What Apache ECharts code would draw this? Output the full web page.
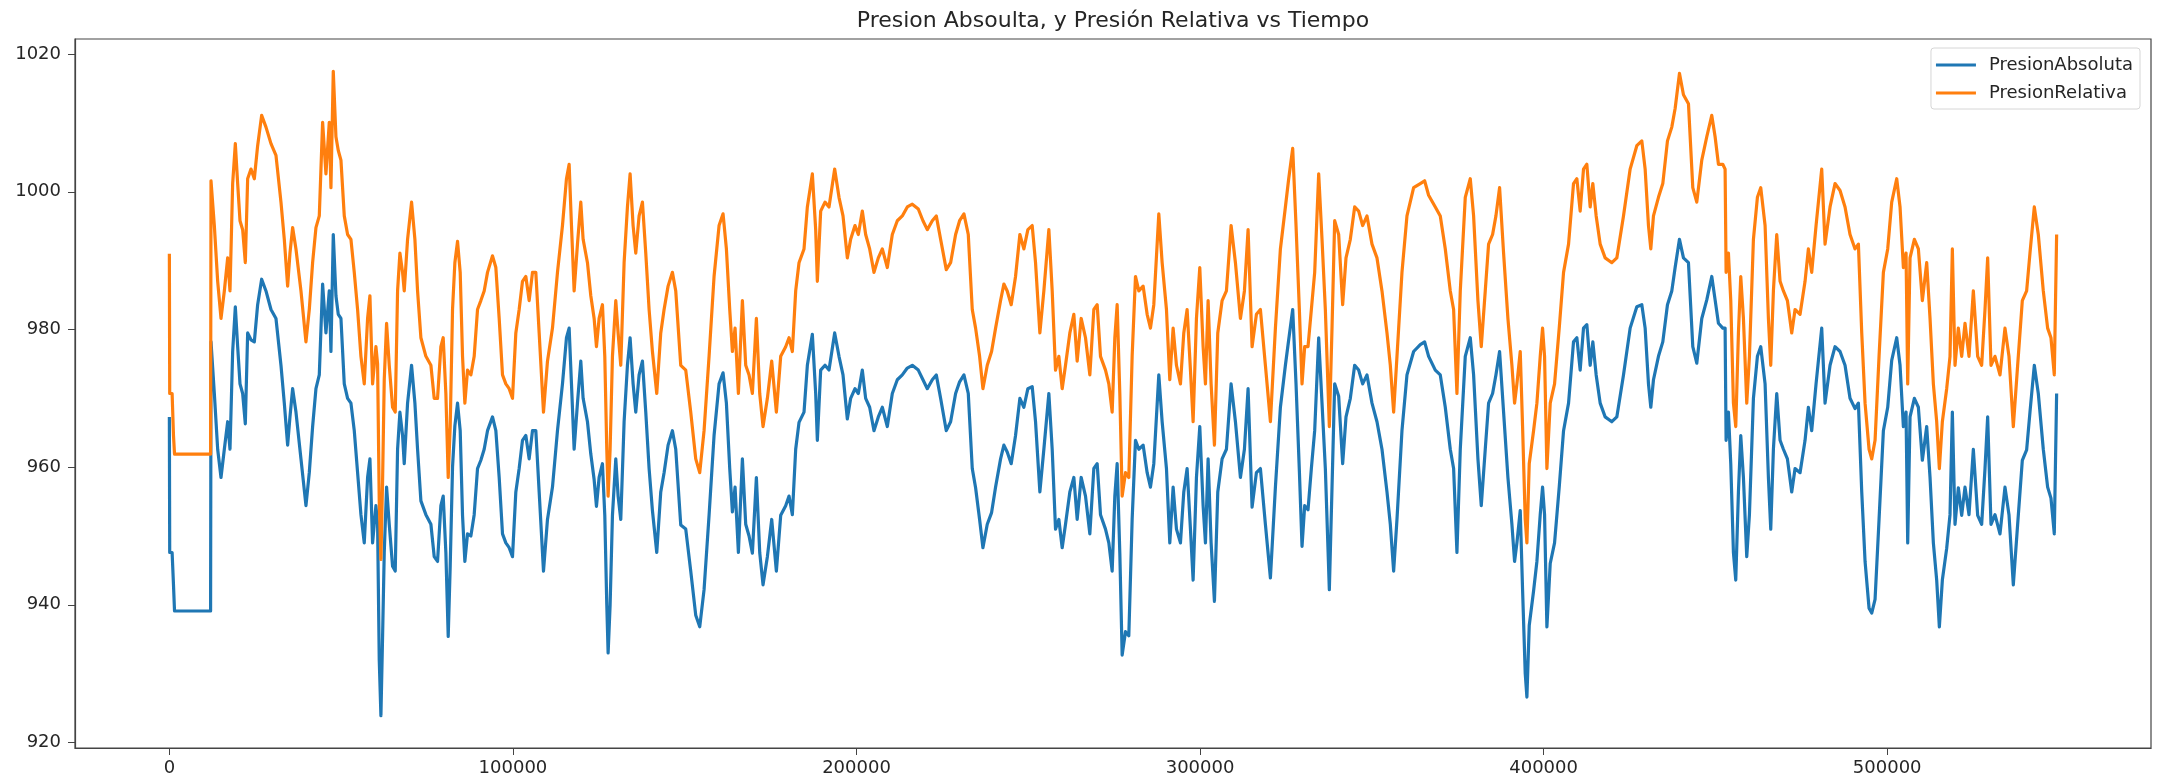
<!DOCTYPE html>
<html>
<head>
<meta charset="utf-8">
<script src="https://cdn.jsdelivr.net/npm/echarts@6/dist/echarts.min.js"></script>
<style>
html,body{margin:0;padding:0;background:#fff;}
#chart{width:2159px;height:781px;}
</style>
</head>
<body>
<div id="chart"></div>
<script>
const chartTitle = "Presion Absoulta, y Presión Relativa vs Tiempo";
const seriesNames = ["PresionAbsoluta", "PresionRelativa"];
const xTicks = [0, 100000, 200000, 300000, 400000, 500000];
const yTicks = [920, 940, 960, 980, 1000, 1020];

const tiempo = [
0,100,800,1200,1500,12000,12121,13091,14061,15030,16000,16970,17649,18424,19200,19879,20558,21334,22110,22788,23758,24728,25697,26861,28121,29576,31031,32485,33455,34425,35103,35879,36849,38303,39758,40728,41697,42667,43637,44606,45576,46546,47031,47710,48485,49164,49940,50909,51879,52849,53818,54788,55758,56728,57697,58376,59152,60122,60606,61091,61576,62061,62546,63225,64000,64970,65746,66425,67103,67879,68364,69334,70498,71467,72243,73213,74667,76122,
77088,78058,79027,79706,80482,81161,81743,82421,83100,83876,84652,85330,86009,86785,87755,88724,89694,90664,91634,92603,94058,95027,95997,96967,97937,98906,99876,100846,101815,102785,103755,104724,105694,106664,107634,108894,110058,111512,112967,114422,115585,116361,117040,117815,118785,119755,120431,121694,122664,123634,124312,125088,126058,126737,127318,127706,128288,128967,129937,130615,131391,132361,133331,134106,134979,135755,136725,137694,138664,139634,140603,141864,143028,143997,145161,146422,147391,148846,150300,151755,153209,154373,155634,157088,158543,
160000,161164,162133,163103,163879,164655,165624,166788,167758,168727,169697,170861,171830,172800,174061,175321,176679,177939,179394,180364,181333,182303,183273,184727,185697,187152,188121,188606,189576,190836,192000,193649,194909,196073,197333,198303,199564,200533,201697,202667,203830,205091,206352,207515,208970,210424,211879,213334,214788,216243,217988,219346,220606,222061,223224,224485,226134,227394,228849,230012,231273,232534,233697,234667,235831,236800,238061,239321,240485,241940,
242900,243870,245033,246294,247555,248718,249882,251142,252112,253373,254536,255991,256961,257930,258900,259870,260839,262100,263264,264233,265397,266658,267918,269082,270052,271021,272476,273446,274415,275191,275870,276646,277324,278294,279264,280233,281203,282173,283433,284597,285567,286537,287991,288961,290221,291191,292161,293130,294294,295264,296234,297203,297979,298949,299918,300888,301567,302343,303215,304185,305155,306415,307676,309034,310294,311749,312912,313979,315143,316403,317567,319021,320476,321931,323385,324840,
325800,326964,327933,328903,329679,330455,331424,332394,333364,334527,335497,336467,337630,338406,339182,340346,341509,342479,343739,345000,346164,347327,348588,350043,351497,352952,354406,355376,356346,357315,358770,360224,362164,364103,365364,366527,368467,369921,371376,372830,373800,374770,375740,377194,378649,379618,380879,381849,383012,383982,385146,386115,387182,388346,389606,390770,391546,392224,393194,393873,394649,395134,395812,397073,398043,399012,399691,400273,400952,401921,403182,404540,405800,407255,
408700,409670,410639,411609,412579,413549,414324,415294,416458,417912,419852,421306,423246,425185,427124,428579,429549,430518,431197,431973,433427,434688,436046,437306,438276,439536,440700,442155,443415,444579,446033,447488,448943,449912,450882,452143,452821,453112,453791,454470,455246,455924,456700,457379,458155,459124,459900,461064,462227,463197,464458,465427,466106,466882,467852,468821,469791,470955,472215,473185,474640,476094,477064,478034,479294,480943,481912,483367,484821,486276,487731,489185,490640,
491620,492590,493559,494723,495499,496469,497632,498893,500154,501317,502772,503741,504711,505487,505972,506650,507911,509075,510238,511499,512469,513438,514408,515184,516056,517317,518287,518966,519741,520711,521681,522650,523814,525075,526335,527499,528469,529244,530214,531378,532832,534287,535450,536711,537972,539329,540590,541560,542821,543984,545438,546699,547669,548639,549318
];

const presionAbsoluta = [
967.3,947.6,947.6,942.9,939.1,939.1,978.2,970.7,962.6,958.5,962.6,966.6,962.6,976.8,983.3,977.5,972.1,970.7,966.3,979.5,978.5,978.2,983.6,987.3,985.6,982.9,981.6,974.8,969.3,963.2,967.3,971.4,968.0,961.2,954.4,959.2,965.9,971.4,973.4,986.6,979.5,985.6,976.8,993.8,984.9,982.2,981.6,972.1,970.0,969.3,965.3,959.2,953.1,949.0,958.5,961.2,949.0,954.4,951.7,932.0,923.9,935.4,947.6,957.1,951.7,945.6,944.9,962.6,968.0,964.6,960.5,969.3,974.8,969.3,962.6,955.1,953.1,951.7,
947.0,946.3,954.4,955.8,947.6,935.4,945.6,960.0,966.0,969.3,965.3,953.0,946.3,950.3,950.0,953.1,959.8,961.0,962.6,965.3,967.3,965.3,958.5,950.3,949.0,948.3,947.0,956.4,959.8,963.9,964.6,961.2,965.3,965.3,956.4,944.9,952.4,957.1,965.3,972.1,978.8,980.2,972.1,962.6,969.3,975.4,970.0,966.6,961.9,958.2,954.3,958.5,960.5,953.0,940.0,933.0,940.0,953.0,961.2,955.8,952.4,966.6,974.8,978.8,972.1,968.0,973.4,975.4,968.0,959.8,953.7,947.6,956.4,959.2,963.2,965.3,962.6,951.6,951.0,944.9,938.5,936.8,942.2,953.0,964.6,
972.1,973.7,969.3,959.8,953.5,957.1,947.6,961.2,951.7,950.0,947.5,958.5,947.6,942.9,947.0,952.4,944.9,953.0,954.4,955.8,953.1,962.6,966.5,968.0,974.8,979.3,970.7,963.9,974.1,974.8,974.1,979.5,976.1,973.4,967.0,970.0,971.4,970.7,974.1,970.0,968.7,965.3,967.3,968.7,965.9,970.7,972.7,973.4,974.4,974.8,974.1,972.7,971.4,972.7,973.4,970.0,965.3,966.6,970.7,972.4,973.4,970.7,959.8,957.0,952.4,948.3,951.7,953.4,957.1,961.2,
963.2,962.2,960.5,964.6,970.0,968.7,971.4,971.7,966.6,956.4,962.6,970.7,962.6,951.0,952.4,948.3,951.7,956.4,958.5,952.4,958.5,955.8,950.3,959.8,960.5,953.1,951.0,949.0,944.9,955.8,960.5,947.5,932.7,936.1,935.5,952.4,963.9,962.6,963.2,959.2,957.1,960.5,973.4,966.6,959.8,949.0,957.1,951.0,949.0,956.4,959.8,951.0,943.6,958.5,965.9,954.4,949.0,961.2,949.0,940.5,956.4,961.2,962.6,972.1,966.6,958.5,962.6,971.4,954.2,959.2,959.8,951.7,943.9,957.1,968.7,974.8,
978.5,982.9,972.1,959.5,948.5,954.4,953.8,959.8,965.3,978.8,969.3,959.8,942.2,957.0,972.1,970.3,960.5,967.3,970.0,974.8,974.1,972.1,973.4,969.3,966.6,962.6,956.4,951.7,944.9,952.4,965.3,973.4,976.8,977.8,978.2,976.1,974.1,973.4,968.7,962.6,959.8,947.6,962.6,976.1,978.8,973.4,961.2,954.4,962.6,969.3,970.7,973.4,976.8,968.0,958.5,951.7,946.3,949.0,953.7,942.2,930.0,926.6,937.0,942.0,946.3,953.1,957.1,953.1,936.8,946.0,949.0,957.1,965.3,969.3,
978.2,978.8,974.1,980.2,980.7,974.8,978.2,973.4,969.3,967.3,966.6,967.3,973.4,980.2,983.3,983.6,980.2,972.1,968.7,972.7,976.1,978.2,983.6,985.6,989.0,993.1,990.4,989.7,977.5,975.1,981.6,984.3,987.7,984.3,980.9,980.2,980.2,963.9,968.0,960.5,947.6,943.6,956.4,964.6,958.5,947.0,953.1,970.0,976.1,977.5,972.1,958.5,951.0,962.6,970.7,963.9,962.6,961.2,956.4,959.8,959.2,963.9,968.7,965.3,972.1,980.2,969.3,974.8,977.5,976.8,974.8,970.0,968.5,
969.3,956.4,946.3,939.5,938.8,940.8,952.4,965.3,968.7,975.5,978.8,974.8,965.9,968.0,949.0,967.3,970.0,968.7,961.0,965.9,958.5,949.0,943.6,936.8,943.6,948.2,953.1,968.0,951.7,957.0,953.0,957.1,953.1,962.6,953.0,951.7,959.8,967.3,951.7,953.1,950.3,957.1,953.1,942.9,951.7,961.0,962.5,968.0,974.8,970.7,962.6,957.1,955.5,950.3,970.7
];

const presionRelativa = [
991.0,970.7,970.7,964.6,961.9,961.9,1001.6,995.1,987.0,981.6,985.6,990.4,985.6,1001.2,1007.0,1001.2,995.8,994.5,989.7,1001.9,1003.3,1001.9,1006.7,1011.1,1009.4,1007.0,1005.3,998.5,993.1,986.3,991.1,994.8,991.7,985.6,978.2,982.9,989.7,994.8,996.5,1010.1,1002.6,1010.1,1000.6,1017.5,1008.0,1006.0,1004.6,996.5,993.8,993.1,988.3,982.9,976.1,972.1,981.6,984.9,972.1,977.5,975.0,955.0,946.6,958.0,972.7,980.9,974.8,968.7,968.0,985.6,991.1,988.3,985.6,993.1,998.5,993.1,985.6,978.8,976.1,974.8,
970.0,970.0,977.5,978.8,970.7,958.5,965.9,982.9,989.7,992.8,988.3,976.1,969.3,974.1,973.4,976.1,982.9,984.2,985.6,988.3,990.7,989.0,981.6,973.4,972.1,971.4,970.0,979.5,982.9,987.0,987.7,984.2,988.3,988.3,979.5,968.0,975.4,980.2,988.3,995.1,1001.9,1004.0,995.1,985.6,992.4,998.5,993.1,989.7,984.9,981.6,977.5,981.6,983.6,976.1,962.6,955.8,962.6,976.1,984.2,979.5,974.8,989.7,997.8,1002.6,995.1,991.1,996.5,998.5,991.1,982.9,976.8,970.7,979.5,982.9,986.3,988.3,985.6,974.8,974.1,968.0,961.2,959.2,965.3,976.1,987.7,
995.1,996.8,991.7,982.9,976.8,980.2,970.7,984.2,974.8,973.4,970.7,981.6,970.7,965.9,970.0,975.4,968.0,976.1,977.5,978.8,976.8,985.6,989.7,991.7,997.8,1002.6,994.5,987.0,997.2,998.5,997.8,1003.3,999.2,996.5,990.4,993.1,995.1,993.8,997.2,993.8,991.7,988.3,990.4,991.7,989.0,993.8,995.8,996.5,997.8,998.2,997.5,995.8,994.5,995.8,996.5,993.1,988.7,989.7,993.8,995.8,996.8,993.8,982.9,980.2,976.1,971.4,974.8,976.8,980.2,984.2,
986.6,985.6,983.6,987.7,993.8,991.7,994.5,995.1,989.7,979.5,985.6,994.5,985.6,974.1,976.1,971.4,974.8,979.5,982.2,975.4,981.6,978.8,973.4,982.9,983.6,976.1,974.1,972.1,968.0,978.8,983.6,970.7,955.8,959.2,958.5,976.1,987.7,985.6,986.3,982.2,980.2,983.6,996.8,989.7,982.9,972.7,980.2,974.8,972.1,979.5,982.9,974.1,966.6,981.6,989.0,977.5,972.1,984.2,972.1,963.2,979.5,984.2,985.6,995.1,989.7,981.6,985.6,994.5,977.5,982.2,982.9,974.8,966.6,980.2,991.7,997.8,
1001.9,1006.3,995.1,982.9,972.1,977.5,977.5,982.9,988.3,1002.6,993.1,982.9,965.9,980.2,995.8,993.8,983.6,990.4,993.1,997.8,997.2,995.1,996.5,992.4,990.4,985.6,979.5,974.8,968.0,976.1,988.3,996.5,1000.6,1001.2,1001.6,999.5,997.8,996.5,991.7,985.6,982.9,970.7,985.6,999.2,1001.9,996.5,984.2,977.5,985.6,992.4,993.8,996.5,1000.6,991.1,981.6,974.8,969.3,972.1,976.8,965.9,952.4,949.0,960.5,965.3,969.3,976.1,980.2,976.1,959.8,969.3,972.1,980.2,988.3,992.4,
1001.2,1001.9,997.2,1003.3,1004.0,997.8,1001.2,996.5,992.4,990.4,989.7,990.4,996.5,1003.3,1006.7,1007.4,1003.3,995.1,991.7,996.5,999.2,1001.2,1007.4,1009.4,1012.1,1017.2,1014.1,1012.8,1000.6,998.5,1004.6,1008.0,1011.1,1008.0,1004.0,1004.0,1003.3,988.3,991.1,984.2,969.3,965.9,979.5,987.7,981.6,969.3,976.1,993.1,999.2,1000.6,995.1,981.6,974.8,985.6,993.8,987.0,985.6,984.2,979.5,982.9,982.2,987.0,991.7,988.3,995.1,1003.3,992.4,997.8,1001.2,1000.2,997.8,993.8,991.7,
992.4,979.5,969.3,962.6,961.2,963.9,976.1,988.3,991.7,998.5,1001.9,997.8,989.0,991.1,972.1,990.4,993.1,991.7,984.2,989.7,981.6,972.1,966.6,959.8,966.6,971.4,976.1,991.7,974.8,980.2,976.1,980.9,976.1,985.6,976.1,974.8,982.9,990.4,974.8,976.1,973.4,980.2,976.1,965.9,974.8,984.2,985.6,991.1,997.8,993.8,985.6,980.2,978.8,973.4,993.8
];

const chart = echarts.init(document.getElementById('chart'), null, {renderer: 'canvas'});
const font = 'DejaVu Sans';
const option = {
  animation: false,
  backgroundColor: '#ffffff',
  title: {
    text: chartTitle,
    left: 1113,
    top: 10,
    padding: 0,
    textAlign: 'center',
    textStyle: {fontFamily: font, fontSize: 22, fontWeight: 'normal', color: '#262626'}
  },
  legend: {
    orient: 'vertical',
    right: 19,
    top: 48,
    padding: [8, 7, 7, 5],
    itemGap: 10,
    itemWidth: 40,
    itemHeight: 3,
    icon: 'rect',
    backgroundColor: 'rgba(255,255,255,0.8)',
    borderColor: '#d6d6d6',
    borderWidth: 1,
    borderRadius: 3,
    textStyle: {fontFamily: font, fontSize: 18, color: '#262626', padding: [0, 0, 0, 8]},
    data: seriesNames
  },
  grid: {
    left: 75, right: 8, top: 39, bottom: 33,
    show: true, borderColor: '#444', borderWidth: 1.2, backgroundColor: 'transparent'
  },
  xAxis: {
    type: 'value',
    min: -27466,
    max: 576786,
    splitLine: {show: false},
    axisLine: {show: true, onZero: false, lineStyle: {color: '#444', width: 1.2}},
    axisTick: {show: true, length: 7, customValues: xTicks, lineStyle: {color: '#444'}},
    axisLabel: {customValues: xTicks, margin: 11, fontFamily: font, fontSize: 18, color: '#262626', formatter: v => String(v)}
  },
  yAxis: {
    type: 'value',
    min: 919.2,
    max: 1022.2,
    splitLine: {show: false},
    axisLine: {show: true, onZero: false, lineStyle: {color: '#444', width: 1.2}},
    axisTick: {show: true, length: 7, customValues: yTicks, lineStyle: {color: '#444'}},
    axisLabel: {customValues: yTicks, margin: 14, fontFamily: font, fontSize: 18, color: '#262626', formatter: v => String(v)}
  },
  series: [
    {
      name: seriesNames[0], type: 'line', showSymbol: false, symbol: 'none',
      color: '#1f77b4', lineStyle: {width: 3.2, color: '#1f77b4', join: 'round'},
      data: tiempo.map((t, i) => [t, presionAbsoluta[i]])
    },
    {
      name: seriesNames[1], type: 'line', showSymbol: false, symbol: 'none',
      color: '#ff7f0e', lineStyle: {width: 3.2, color: '#ff7f0e', join: 'round'},
      data: tiempo.map((t, i) => [t, presionRelativa[i]])
    }
  ]
};
chart.setOption(option);
</script>
</body>
</html>
